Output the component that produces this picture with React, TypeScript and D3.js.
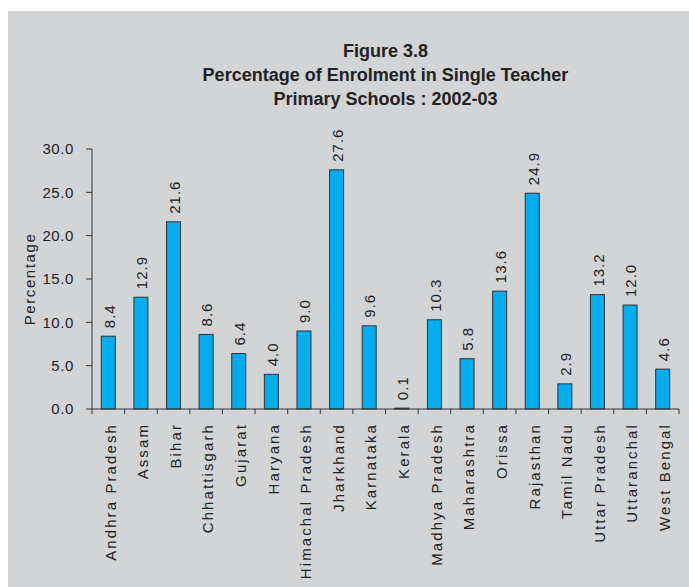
import React, { useEffect, useRef } from 'react';
import * as d3 from 'd3';

const states = [
  'Andhra Pradesh', 'Assam', 'Bihar', 'Chhattisgarh', 'Gujarat', 'Haryana',
  'Himachal Pradesh', 'Jharkhand', 'Karnataka', 'Kerala', 'Madhya Pradesh',
  'Maharashtra', 'Orissa', 'Rajasthan', 'Tamil Nadu', 'Uttar Pradesh',
  'Uttaranchal', 'West Bengal',
];
const enrolment = [8.4, 12.9, 21.6, 8.6, 6.4, 4.0, 9.0, 27.6, 9.6, 0.1, 10.3, 5.8, 13.6, 24.9, 2.9, 13.2, 12.0, 4.6];
const yTicks = [0, 5, 10, 15, 20, 25, 30];
const titleLines = [
  'Figure 3.8',
  'Percentage of Enrolment in Single Teacher',
  'Primary Schools : 2002-03',
];

const FONT = '"Liberation Sans", Arial, sans-serif';

const App: React.FC = () => {
  const svgRef = useRef<SVGSVGElement>(null);

  useEffect(() => {
    const width = 689;
    const height = 587;
    const svg = d3.select(svgRef.current);
    svg.selectAll('*').remove();
    svg.attr('width', width).attr('height', height);

    // panel background
    svg.append('rect')
      .attr('x', 8).attr('y', 11)
      .attr('width', width - 8).attr('height', height - 11)
      .attr('fill', '#d3d4d6');

    const left = 92, right = 679, top = 149, bottom = 409;

    const x = d3.scaleBand<string>()
      .domain(states)
      .range([left, right])
      .paddingInner(0.57)
      .paddingOuter(0.285);

    const y = d3.scaleLinear().domain([0, 30]).range([bottom, top]);

    // title
    svg.append('g')
      .selectAll('text')
      .data(titleLines)
      .enter()
      .append('text')
      .attr('x', (left + right) / 2)
      .attr('y', (_, i) => 57 + i * 24)
      .attr('text-anchor', 'middle')
      .attr('font-family', FONT)
      .attr('font-weight', 'bold')
      .attr('font-size', 18)
      .attr('fill', '#222')
      .text(d => d);

    // bars
    svg.append('g')
      .selectAll('rect')
      .data(enrolment)
      .enter()
      .append('rect')
      .attr('x', (_, i) => x(states[i]) || 0)
      .attr('width', x.bandwidth())
      .attr('y', d => y(d))
      .attr('height', d => y(0) - y(d))
      .attr('fill', '#00adef')
      .attr('stroke', '#333')
      .attr('stroke-width', 1);

    // value labels
    svg.append('g')
      .selectAll('text')
      .data(enrolment)
      .enter()
      .append('text')
      .attr('transform', (d, i) => `translate(${(x(states[i]) || 0) + x.bandwidth() / 2 + 1}, ${y(d) - 8}) rotate(-90)`)
      .attr('dy', '0.35em')
      .attr('font-family', FONT)
      .attr('font-size', 15)
      .attr('letter-spacing', 1)
      .attr('fill', '#222')
      .text(d => d.toFixed(1));

    // y axis
    const yAxis = svg.append('g').attr('transform', `translate(${left},0)`);
    yAxis.append('line')
      .attr('x1', 0).attr('x2', 0)
      .attr('y1', y(30)).attr('y2', y(0))
      .attr('stroke', '#333');
    yAxis.selectAll('line.tick')
      .data(yTicks)
      .enter()
      .append('line')
      .attr('class', 'tick')
      .attr('x1', -6).attr('x2', 0)
      .attr('y1', d => y(d)).attr('y2', d => y(d))
      .attr('stroke', '#333');
    yAxis.selectAll('text')
      .data(yTicks)
      .enter()
      .append('text')
      .attr('x', -18)
      .attr('y', d => y(d))
      .attr('dy', '0.36em')
      .attr('text-anchor', 'end')
      .attr('font-family', FONT)
      .attr('font-size', 15)
      .attr('letter-spacing', 0.6)
      .attr('fill', '#222')
      .text(d => d.toFixed(1));

    svg.append('text')
      .attr('transform', `translate(30, ${(top + bottom) / 2}) rotate(-90)`)
      .attr('dy', '0.35em')
      .attr('text-anchor', 'middle')
      .attr('font-family', FONT)
      .attr('font-size', 15)
      .attr('letter-spacing', 1.6)
      .attr('fill', '#222')
      .text('Percentage');

    // x axis
    const xAxis = svg.append('g');
    xAxis.append('line')
      .attr('x1', left).attr('x2', right)
      .attr('y1', bottom).attr('y2', bottom)
      .attr('stroke', '#333');
    const boundaries = d3.range(states.length + 1).map(i => left + i * x.step());
    xAxis.selectAll('line.tick')
      .data(boundaries)
      .enter()
      .append('line')
      .attr('class', 'tick')
      .attr('x1', d => d).attr('x2', d => d)
      .attr('y1', bottom).attr('y2', bottom + 5)
      .attr('stroke', '#333');
    xAxis.selectAll('text')
      .data(states)
      .enter()
      .append('text')
      .attr('transform', d => `translate(${(x(d) || 0) + x.bandwidth() / 2 + 2}, 423) rotate(-90)`)
      .attr('dy', '0.35em')
      .attr('text-anchor', 'end')
      .attr('font-family', FONT)
      .attr('font-size', 15)
      .attr('letter-spacing', 2.1)
      .attr('fill', '#222')
      .text(d => d);
  }, []);

  return <svg ref={svgRef} style={{ position: 'absolute', left: 0, top: 0, display: 'block' }} />;
};

export default App;
